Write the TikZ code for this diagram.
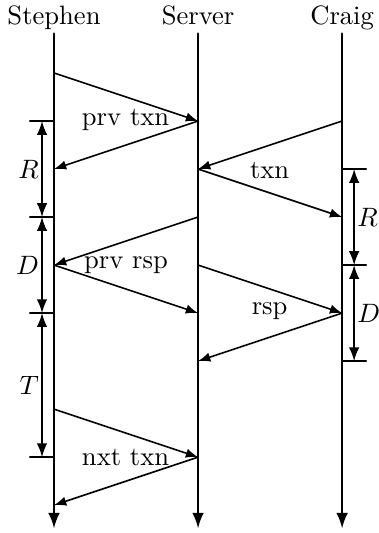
\documentclass[tikz,border=0pt]{standalone}
\usepackage{amsmath, amssymb}
\usepackage{tikz}
\usetikzlibrary{calc}
\usepackage{tkz-euclide}

\begin{document}
\begin{tikzpicture}[x = 0.25in, y = 0.25in]
            \useasboundingbox (-1.125,1.52) rectangle (6.75,-9.58);
            \tkzDefPoints{0/0.82/sTop, 3/0.82/vTop, 6/0.82/cTop}
            \tkzDefPoints{0/-9.48/sEnd, 3/-9.48/vEnd, 6/-9.48/cEnd}
            \tkzDefPoints{0/0/s0, 0/-1/s1, 0/-2/s2, 0/-3/s3, 0/-4/s4, 0/-5/s5, 0/-7/s7, 0/-8/s8, 0/-9/s9}
            \tkzDefPoints{3/-1/v1, 3/-2/v2, 3/-3/v3, 3/-4/v4, 3/-5/v5, 3/-6/v6, 3/-8/v8}
            \tkzDefPoints{6/-1/c1, 6/-2/c2, 6/-3/c3, 6/-4/c4, 6/-5/c5, 6/-6/c6}
            \tkzDefPoints{-0.5/-1/a1, -0.5/-3/a3, -0.5/-5/a5, -0.5/-8/a8}
            \tkzDefPoints{-0.25/-1/m1, -0.25/-3/m3, -0.25/-5/m5, -0.25/-8/m8}
            \tkzDefPoints{6.5/-2/b2, 6.5/-4/b4, 6.5/-6/b6}
            \tkzDefPoints{6.25/-2/n2, 6.25/-4/n4, 6.25/-6/n6}
            \tkzDefPoints{-0.25/-2/mR, -0.25/-4/mD, -0.25/-6.5/mT, 6.25/-3/nR, 6.25/-5/nD}
            % lifelines
            \tkzDrawSegments[-latex, line width=1pt](sTop,sEnd vTop,vEnd cTop,cEnd)
            % messages
            \tkzDrawSegments[-latex, line width=0.6pt](s0,v1 v1,s2 c1,v2 v2,c3 v3,s4 s4,v5 v4,c5 c5,v6 s7,v8 v8,s9)
            % ticks and intervals
            \tkzDrawSegments[line width=0.8pt](a1,s1 a3,s3 a5,s5 a8,s8 c2,b2 c4,b4 c6,b6)
            \tkzDrawSegments[latex-latex, line width=0.8pt](m1,m3 m3,m5 m5,m8 n2,n4 n4,n6)
            \tkzLabelPoint[left, inner sep=1pt](mR){$R$}
            \tkzLabelPoint[left, inner sep=1pt](mD){$D$}
            \tkzLabelPoint[left, inner sep=1pt](mT){$T$}
            \tkzLabelPoint[right, inner sep=1pt](nR){$R$}
            \tkzLabelPoint[right, inner sep=1pt](nD){$D$}
            \node[anchor=base] (stephen) at (0,1) {Stephen};
            \node[anchor=base] (server) at (3,1) {Server};
            \node[anchor=base] (craig) at (6,1) {Craig};
            \node (prvtxn) at (1.49,-0.97) {prv txn};
            \node (txn) at (4.49,-2.02) {txn};
            \node (prvrsp) at (1.5,-4.0) {prv rsp};
            \node (rsp) at (4.49,-4.96) {rsp};
            \node (nxttxn) at (1.49,-8.01) {nxt txn};
        \end{tikzpicture}
\end{document}
